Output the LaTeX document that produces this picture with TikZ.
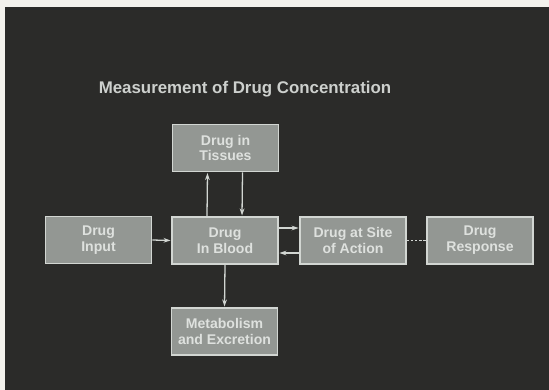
\documentclass[tikz,border=0pt]{standalone}
\usepackage{fontspec}
\setmainfont{Liberation Sans}
\usepackage{tikz}
\usetikzlibrary{arrows.meta,positioning,calc}
\definecolor{slide}{HTML}{2B2B29}
\definecolor{paper}{HTML}{F3F2ED}
\definecolor{boxfill}{HTML}{939793}
\definecolor{boxline}{HTML}{D2D6D2}
\definecolor{boxtext}{HTML}{DEE1DE}
\definecolor{titletext}{HTML}{CDD0CD}
\tikzset{%
  drugbox/.style={%
    draw=boxline,
    fill=boxfill,
    line width=1.5pt,
    text=boxtext,
    align=center,
    minimum width=3.18cm,
    minimum height=1.41cm,
    inner sep=0pt,
    font=\bfseries\fontsize{12}{13.6}\selectfont
  }
}
\tikzset{%
  flow arrow/.style={%
    draw=boxline,
    line width=1.1pt,
    shorten >=0.5pt,
    >={Stealth[length=6pt,width=4pt]},
    ->
  }
}
\tikzset{%
  flow dotted/.style={%
    draw=boxline,
    line width=1.4pt,
    dash pattern=on 2pt off 1.5pt
  }
}

\begin{document}
\begin{tikzpicture}[x=0.03cm,y=-0.03cm]
  \useasboundingbox (0,0) rectangle (549,390);
  \fill [paper] (0,0) rectangle (549,390);
  \fill [slide] (5,7) rectangle (549,390);
  \node [text=titletext, font=\bfseries\fontsize{14.4}{17}\selectfont] (title) at (245, 89) {Measurement of Drug Concentration};
  \node [drugbox] (input) at (98.5, 240) {Drug\\Input};
  \node [drugbox] (blood) at (225, 240.5) {Drug\\In Blood};
  \node [drugbox] (tissues) at (225.5, 148) {Drug in\\Tissues};
  \node [drugbox] (site) at (353, 240.5) {Drug at Site\\of Action};
  \node [drugbox] (response) at (480, 240.5) {Drug\\Response};
  \node [drugbox] (metab) at (224.5, 331.5) {Metabolism\\and Excretion};
  \draw [flow arrow] (input.east) to (blood.west);
  \draw [flow arrow] ([xshift=-0.54cm]blood.north) to ([xshift=-0.54cm]tissues.south);
  \draw [flow arrow] ([xshift=0.51cm]tissues.south) to ([xshift=0.51cm]blood.north);
  \draw [flow arrow] ([yshift=0.375cm]blood.east) to ([yshift=0.375cm]site.west);
  \draw [flow arrow] ([yshift=-0.375cm]site.west) to ([yshift=-0.375cm]blood.east);
  \draw [flow dotted] (site.east) to (response.west);
  \draw [flow arrow] (blood.south) to (metab.north);
\end{tikzpicture}
\end{document}
